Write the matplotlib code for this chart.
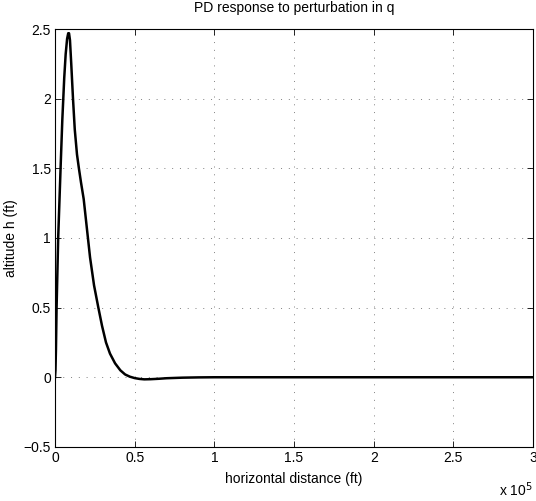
import numpy as np
import matplotlib
matplotlib.use("Agg")
import matplotlib.pyplot as plt
from matplotlib.ticker import FuncFormatter

# Curve (x in ft, h in ft)
dist = [0, 300, 600, 1000, 2000, 3500, 4600, 5200, 5800, 6700, 7600, 8300, 8800,
        9400, 10200, 11300, 12400, 13800, 15000, 16300, 18000, 20000, 22000,
        24500, 27200, 29500, 32000, 34500, 37700, 41000, 44000, 47000, 50000,
        53000, 56000, 60000, 65000, 70000, 80000, 90000, 100000, 150000,
        200000, 250000, 300000]
alt = [0, 0.05, 0.2, 0.5, 1.0, 1.5, 1.85, 2.0, 2.15, 2.32, 2.43, 2.47, 2.47,
       2.42, 2.25, 2.0, 1.78, 1.6, 1.5, 1.4, 1.28, 1.07, 0.86,
       0.66, 0.5, 0.37, 0.25, 0.17, 0.1, 0.05, 0.02, 0.004, -0.006,
       -0.012, -0.015, -0.014, -0.011, -0.007, -0.003, -0.001, 0, 0,
       0, 0, 0]

plt.rcParams["font.family"] = ["Liberation Sans", "DejaVu Sans"]
plt.rcParams["font.size"] = 10

fig = plt.figure(figsize=(5.36, 5.01), dpi=100)
ax = fig.add_axes([0.1026, 0.108, 0.892, 0.834])

ax.plot(dist, alt, color="black", linewidth=1.8)

ax.set_xlim(0, 3e5)
ax.set_ylim(-0.5, 2.5)
ax.set_xticks(np.arange(0, 3.01e5, 0.5e5))
ax.set_yticks(np.arange(-0.5, 2.51, 0.5))
ax.xaxis.set_major_formatter(FuncFormatter(lambda v, p: f"{v / 1e5:g}"))
ax.yaxis.set_major_formatter(FuncFormatter(lambda v, p: f"{v:g}".replace("-", "\u2212")))
ax.tick_params(direction="in", top=True, right=True, length=4, width=0.6, pad=3)
for s in ax.spines.values():
    s.set_linewidth(0.8)

ax.grid(True, linestyle=(0, (1, 7)), color="0.5", linewidth=0.7)

ax.set_title("PD response to perturbation in q", fontsize=10, pad=12)
ax.set_xlabel("horizontal distance (ft)", labelpad=5)
ax.set_ylabel("altitude h (ft)", labelpad=4)
ax.text(1.0, -0.103, "x 10$^5$", transform=ax.transAxes, ha="right", va="center",
        fontsize=10)

fig.savefig("out.png", dpi=100)
